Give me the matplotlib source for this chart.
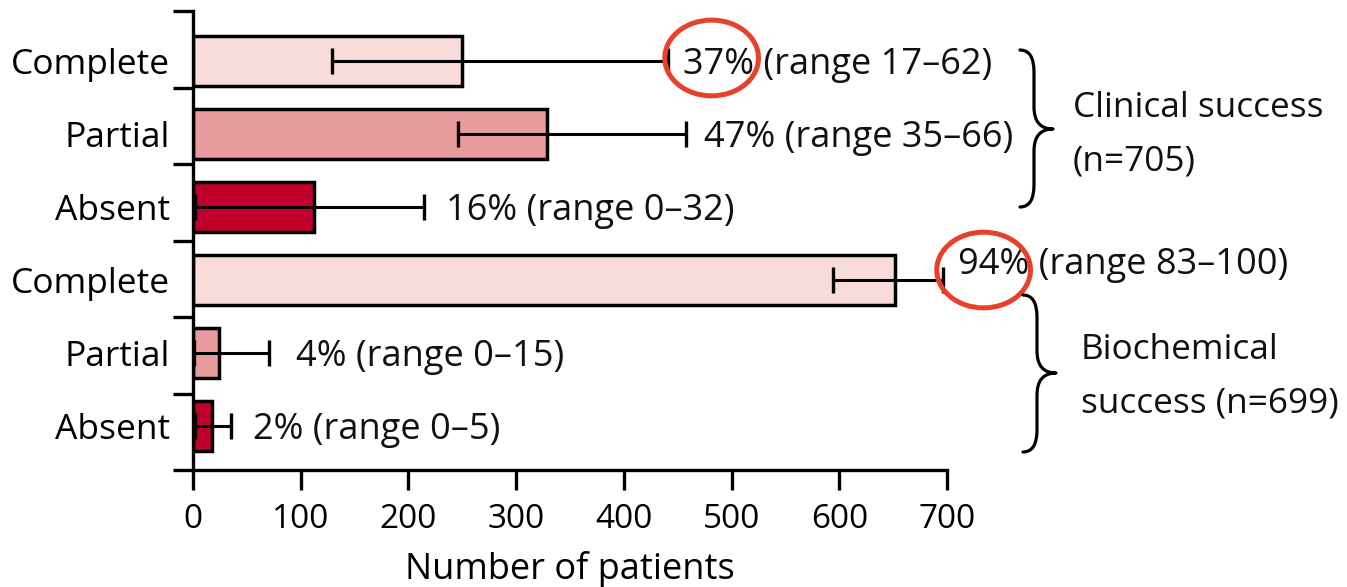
import matplotlib
matplotlib.use("Agg")
import matplotlib.pyplot as plt
from matplotlib.patches import Ellipse, PathPatch
from matplotlib.path import Path

# ---- data -------------------------------------------------------------
categories = ["Complete", "Partial", "Absent", "Complete", "Partial", "Absent"]
patients = [250, 329, 112, 652, 24, 18]
range_low = [129, 246, 2, 594, 1, 2]
range_high = [441, 458, 214, 696, 71, 35]
value_labels = [
    "37% (range 17\u201362)",
    "47% (range 35\u201366)",
    "16% (range 0\u201332)",
    "94% (range 83\u2013100)",
    "4% (range 0\u201315)",
    "2% (range 0\u20135)",
]
group_labels = [["Clinical success", "(n=705)"], ["Biochemical", "success (n=699)"]]
x_ticks = [0, 100, 200, 300, 400, 500, 600, 700]
x_title = "Number of patients"

# ---- style ------------------------------------------------------------
plt.rcParams["font.family"] = ["Open Sans", "DejaVu Sans"]
W, H = 1347, 587
LIGHT, MID, DARK = "#F8DCD9", "#E89B9C", "#C0002B"
bar_colors = [LIGHT, MID, DARK, LIGHT, MID, DARK]
RING = "#E8402A"
label_gap_pt = [11, 13, 16, 11, 19, 16]
label_rise_pt = [0, 0, 0, 13.5, 0, 0]

fig = plt.figure(figsize=(W / 100, H / 100), dpi=100)
ax = fig.add_axes([193 / W, 1 - 470 / H, (947 - 193) / W, (470 - 11) / H])

# bar centres within six row bands (band boundaries at k - 0.5)
ypos = [0.15 + 0.955 * i for i in range(len(patients))]

ax.barh(ypos, patients, height=0.65, color=bar_colors, edgecolor="black",
        linewidth=2.5, zorder=2)
xerr = [[p - lo for p, lo in zip(patients, range_low)],
        [hi - p for p, hi in zip(patients, range_high)]]
ax.errorbar(patients, ypos, xerr=xerr, fmt="none", ecolor="black",
            elinewidth=2.2, capsize=9.5, capthick=2.4, zorder=3)

for y, hi, txt, gap, rise in zip(ypos, range_high, value_labels,
                                 label_gap_pt, label_rise_pt):
    ax.annotate(txt, xy=(hi, y), xytext=(gap, -9.3 + rise),
                textcoords="offset points", ha="left", va="baseline",
                fontsize=26, color="#111111", annotation_clip=False)

ax.set_xlim(0, 700)
ax.set_ylim(5.5, -0.5)
ax.set_xticks(x_ticks)
ax.set_xticklabels([str(t) for t in x_ticks], fontsize=24)
ax.set_yticks([k - 0.5 for k in range(7)])
ax.set_yticklabels([])
ax.set_yticks(ypos, categories, minor=True)
ax.tick_params(axis="y", which="major", length=14.4, width=2.4, direction="out")
ax.tick_params(axis="y", which="minor", length=0, pad=16.5, labelsize=25.5)
ax.tick_params(axis="x", length=14.4, width=2.4, direction="out", pad=9)
ax.set_xlabel(x_title, fontsize=26, labelpad=11)

for side in ("top", "right"):
    ax.spines[side].set_visible(False)
for side in ("left", "bottom"):
    ax.spines[side].set_linewidth(2.4)

# highlight rings around two of the percentages
for cx, cy in [(481.5, 0.114), (734.0, 2.886)]:
    ax.add_patch(Ellipse((cx, cy), 87, 0.99, fill=False, edgecolor=RING,
                         linewidth=3.6, clip_on=False, zorder=5))


def to_fig(x, y):
    return (x / W, 1 - y / H)


def brace(x_hook, x_vert, x_tip, y_top, y_bot, y_mid, r=22):
    pts = [
        (x_hook, y_top), (x_vert, y_top), (x_vert, y_top + r),
        (x_vert, y_mid - r), (x_vert, y_mid), (x_tip, y_mid),
        (x_vert, y_mid), (x_vert, y_mid + r),
        (x_vert, y_bot - r), (x_vert, y_bot), (x_hook, y_bot),
    ]
    codes = [Path.MOVETO, Path.CURVE3, Path.CURVE3,
             Path.LINETO, Path.CURVE3, Path.CURVE3,
             Path.CURVE3, Path.CURVE3,
             Path.LINETO, Path.CURVE3, Path.CURVE3]
    path = Path([to_fig(*p) for p in pts], codes)
    fig.patches.append(PathPatch(path, fill=False, edgecolor="black",
                                 linewidth=2.3, transform=fig.transFigure,
                                 capstyle="round", joinstyle="round"))


brace(1020, 1034, 1053, 50, 207, 129)
brace(1023, 1037, 1056, 295, 452, 373)

for (x0, y0), lines in zip([(1073, 104), (1081, 346)], group_labels):
    for k, line in enumerate(lines):
        fx, fy = to_fig(x0, y0 + 54 * k)
        fig.text(fx, fy, line, fontsize=25.3, ha="left", va="center_baseline",
                 color="#111111")

fig.savefig("out.png", dpi=100)
